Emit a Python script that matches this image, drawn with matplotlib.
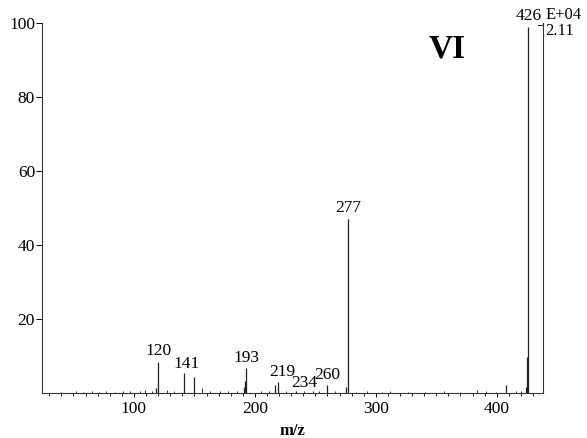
import matplotlib
matplotlib.use("Agg")
import matplotlib.pyplot as plt
from matplotlib.ticker import MultipleLocator

# main peaks (m/z, relative intensity %)
peak_mz = [118, 120, 141, 150, 191, 192, 193, 217, 219, 234, 260, 275, 277, 408, 424, 425, 426]
peak_int = [1.2, 8.3, 5.4, 4.2, 1.5, 3.2, 6.6, 2.0, 3.0, 0.6, 2.2, 1.5, 47.0, 2.0, 1.5, 9.8, 99.0]

# small background peaks
noise_mz = [40, 52, 58, 65, 71, 77, 84, 91, 97, 105, 109, 115, 127, 133, 156, 163, 171, 178,
            185, 205, 212, 226, 241, 248, 253, 266, 284, 293, 305, 312, 327, 341, 356, 370,
            384, 391, 399, 416, 420]
noise_int = [0.3, 0.4, 0.3, 0.5, 0.3, 0.4, 0.3, 0.6, 0.4, 0.5, 0.8, 0.6, 0.7, 0.5, 1.2, 0.5,
             0.4, 0.5, 0.6, 0.5, 0.6, 0.4, 0.5, 0.4, 0.6, 0.4, 0.3, 0.4, 0.3, 0.4, 0.3, 0.3,
             0.4, 0.3, 0.9, 0.4, 0.3, 0.5, 0.6]

labels = ["120", "141", "193", "219", "234", "260", "277", "426"]
label_mz = [120, 141, 193, 219, 234, 260, 277, 426]
label_y = [8.3, 5.4, 6.6, 3.0, 0.6, 2.2, 47.0, 99.0]

plt.rcParams["font.family"] = "Liberation Serif"

fig = plt.figure(figsize=(5.87, 4.38), dpi=100)
ax = fig.add_axes([0.0716, 0.103, 0.853, 0.844])

ax.vlines(noise_mz, 0, noise_int, color="#333333", lw=0.7)
ax.vlines(peak_mz, 0, peak_int, color="#222222", lw=0.9)

# label offsets in points (dx, dy) so they sit like the original
offsets = {"141": (2, 1), "219": (3, 1), "234": (6, 0), "260": (0, 1)}
for lab, x, y in zip(labels, label_mz, label_y):
    dx, dy = offsets.get(lab, (0, 2))
    ax.annotate(lab, (x, y), xytext=(dx, dy), textcoords="offset points",
                ha="center", va="bottom", fontsize=12.5)

ax.set_xlim(24, 438)
ax.set_ylim(0, 100)
ax.spines["top"].set_visible(False)
for s in ax.spines.values():
    s.set_linewidth(0.8)
    s.set_color("#333333")

ax.set_yticks([20, 40, 60, 80, 100])
ax.xaxis.set_major_locator(MultipleLocator(100))
ax.xaxis.set_minor_locator(MultipleLocator(10))
ax.tick_params(axis="both", which="major", labelsize=12.5, length=4, width=0.7, pad=1)
ax.tick_params(axis="x", which="minor", length=2, width=0.6)
ax.tick_params(axis="x", which="major", length=3, pad=3)

ax.set_xlabel("m/z", fontsize=12, fontweight="bold", labelpad=4)

# right-axis scale marker
ax.plot([434, 438], [99.5, 99.5], color="#333333", lw=0.8, clip_on=False)
ax.text(1.005, 1.0, "E+04", transform=ax.transAxes, ha="left", va="bottom", fontsize=12)
ax.text(1.005, 1.0, "2.11", transform=ax.transAxes, ha="left", va="top", fontsize=12)

ax.text(0.81, 0.93, "VI", transform=ax.transAxes, ha="center", va="center",
        fontsize=24, fontweight="bold")

fig.savefig("out.png", dpi=100)
